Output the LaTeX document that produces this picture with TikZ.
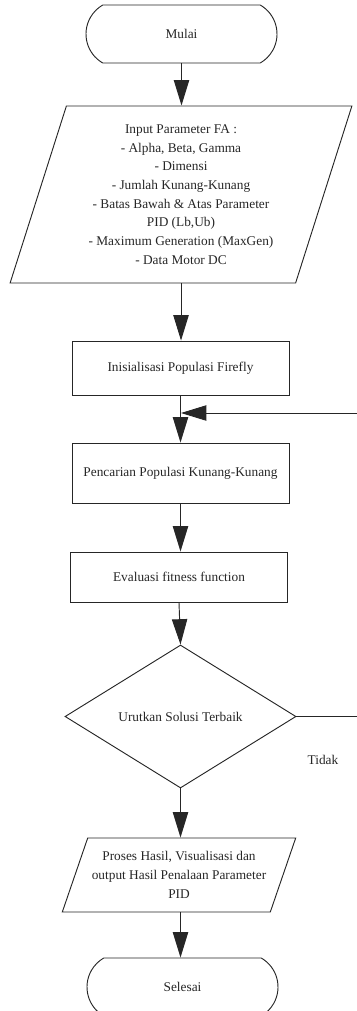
\documentclass[tikz,border=0pt]{standalone}
\usepackage{fontspec}
\setmainfont{Liberation Serif}
\usetikzlibrary{arrows.meta, positioning, shapes.geometric, shapes.misc}

\newcommand{\pxl}{0.75pt}

\tikzset{
  base/.style={draw=black!85, line width=0.7pt, text=black!85,
    font=\fontsize{10}{14}\selectfont, inner sep=0pt, align=center},
  termbox/.style={base, rounded rectangle, rounded rectangle arc length=120,
    minimum width=191*\pxl, minimum height=58*\pxl},
  procbox/.style={base, rectangle, minimum width=217*\pxl},
  iobox/.style={base, trapezium, trapezium stretches=true},
  decbox/.style={base, diamond, aspect=1.6,
    minimum width=231*\pxl, minimum height=143*\pxl},
  arr/.style={draw=black!85, line width=0.7pt,
    -{Triangle[length=19pt,width=11.5pt]}}
}

\begin{document}
\begin{tikzpicture}[x=0.75pt, y=-0.75pt]
  \useasboundingbox (0,0) rectangle (357,1011);

  \node[termbox] (start) at (181.5,34) {Mulai};
  \node[iobox, trapezium left angle=72, trapezium right angle=108,
    minimum width=342*\pxl, minimum height=177*\pxl] (input) at (181,194.5)
    {Input Parameter FA :\\- Alpha, Beta, Gamma\\- Dimensi\\- Jumlah Kunang-Kunang\\
     - Batas Bawah \& Atas Parameter\\PID (Lb,Ub)\\- Maximum Generation (MaxGen)\\- Data Motor DC};
  \node[procbox, minimum height=54*\pxl] (init) at (180.5,368) {Inisialisasi Populasi Firefly};
  \node[procbox, minimum height=60*\pxl] (search) at (180.5,473) {Pencarian Populasi Kunang-Kunang};
  \node[procbox, minimum height=50*\pxl] (eval) at (179,577) {Evaluasi fitness function};
  \node[decbox] (sort) at (180.5,716.5) {Urutkan Solusi Terbaik};
  \node[iobox, trapezium left angle=62.5, trapezium right angle=117.5,
    minimum width=234*\pxl, minimum height=74*\pxl] (result) at (179,875)
    {Proses Hasil, Visualisasi dan\\output Hasil Penalaan Parameter\\PID};
  \node[termbox] (finish) at (182.5,987) {Selesai};
  \node[text=black!85, font=\fontsize{10}{14}\selectfont] (no) at (323,760) {Tidak};
  \coordinate (join) at (181,413);

  % alur utama
  \draw[arr] (start.south) -- (start.south |- input.north);
  \draw[arr] (input.south) -- (input.south |- init.north);
  \draw[arr] (init.south) -- (init.south |- search.north);
  \draw[arr] (search.south) -- (search.south |- eval.north);
  \draw[arr] (eval.south) -- (sort.north);
  \draw[arr] (sort.south) -- (sort.south |- result.north);
  \draw[arr] (result.south -| sort.south) -- (sort.south |- finish.north);

  % kembali ke pencarian
  \draw[arr] (sort.east) -- ++(80,0) |- (join);
\end{tikzpicture}
\end{document}
